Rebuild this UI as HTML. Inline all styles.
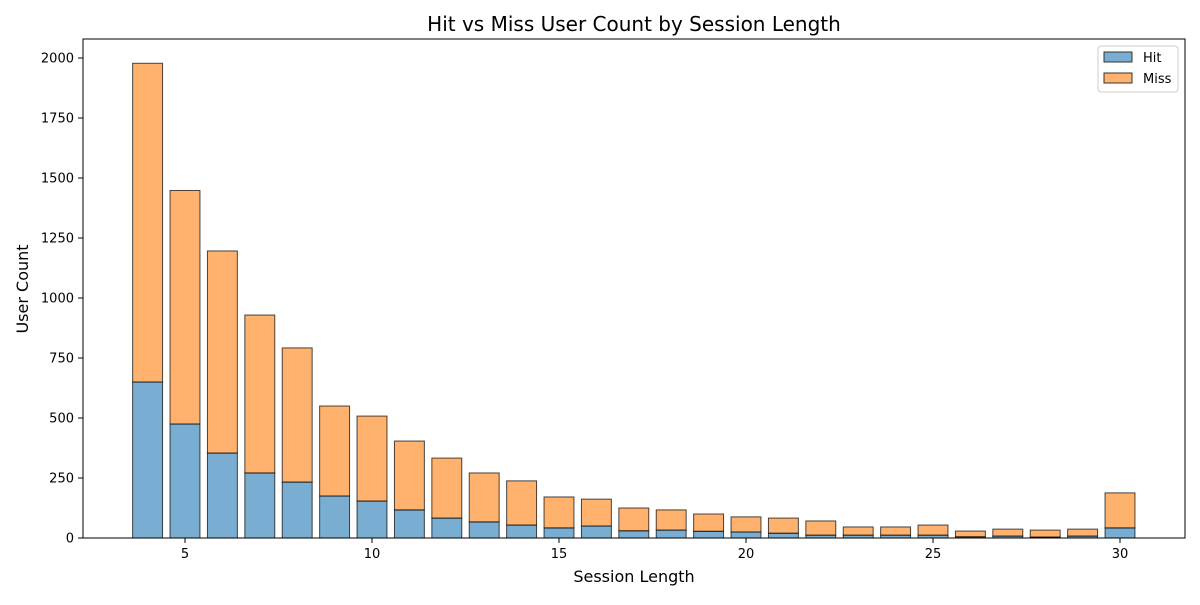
<!DOCTYPE html>
<html><head><meta charset="utf-8"><style>
body{margin:0;background:#fff;font-family:"Liberation Sans","DejaVu Sans",sans-serif;}
</style></head><body>
<svg id="chart" width="1200" height="600" xmlns="http://www.w3.org/2000/svg" font-family="DejaVu Sans, Liberation Sans, sans-serif">
<rect width="1200" height="600" fill="#fff"/>
<text x="634" y="31" font-size="20" text-anchor="middle">Hit vs Miss User Count by Session Length</text>
<g id="bars"></g>
<rect x="83" y="39" width="1102" height="499" fill="none" stroke="#000" stroke-width="1"/>
<g id="xt"></g><g id="yt"></g>
<text x="634" y="582" font-size="16" text-anchor="middle">Session Length</text>
<text transform="translate(28,289) rotate(-90)" font-size="16" text-anchor="middle">User Count</text>
<g>
<rect x="1098" y="46" width="80" height="46" rx="3" fill="#fff" stroke="#ccc"/>
<rect x="1104" y="52" width="28" height="10" fill="#1f77b4" fill-opacity="0.6" stroke="#333"/>
<text x="1143" y="62" font-size="13">Hit</text>
<rect x="1104" y="73" width="28" height="10" fill="#ff7f0e" fill-opacity="0.6" stroke="#333"/>
<text x="1143" y="83" font-size="13">Miss</text>
</g>
</svg>
<script>
const categories=[4,5,6,7,8,9,10,11,12,13,14,15,16,17,18,19,20,21,22,23,24,25,26,27,28,29,30];
const totals=[1978,1448,1196,929,792,550,508,404,333,271,238,171,162,125,117,100,88,83,71,46,46,54,29,37,33,37,188];
const hits=[650,475,354,271,233,175,154,117,83,67,54,42,50,30,33,28,25,20,12,12,12,12,5,8,4,8,42];
const xTicks=[5,10,15,20,25,30];
const yTicks=[0,250,500,750,1000,1250,1500,1750,2000];
const NS="http://www.w3.org/2000/svg";
const xs=v=>185+(v-5)*37.4;
const ys=v=>538-v*0.24;
const bw=0.8*37.4;
const bars=document.getElementById('bars');
function rect(x,y,w,h,fill){const r=document.createElementNS(NS,'rect');r.setAttribute('x',x);r.setAttribute('y',y);r.setAttribute('width',w);r.setAttribute('height',h);r.setAttribute('fill',fill);r.setAttribute('fill-opacity','0.6');r.setAttribute('stroke','#000');r.setAttribute('stroke-opacity','0.7');return r;}
categories.forEach((c,i)=>{
 const h=hits[i],m=totals[i]-hits[i];
 const r1=rect(xs(c)-bw/2,ys(h),bw,ys(0)-ys(h),'#1f77b4');
 
 
 bars.appendChild(r1);
 const r2=rect(xs(c)-bw/2,ys(h+m),bw,ys(h)-ys(h+m),'#ff7f0e');
 
 
 bars.appendChild(r2);
});
const xt=document.getElementById('xt');
xTicks.forEach(v=>{
 const l=document.createElementNS(NS,'line');l.setAttribute('x1',xs(v));l.setAttribute('x2',xs(v));l.setAttribute('y1',538);l.setAttribute('y2',543);l.setAttribute('stroke','#000');
 
 
 xt.appendChild(l);
 const t=document.createElementNS(NS,'text');t.setAttribute('x',xs(v));t.setAttribute('y',558);t.setAttribute('font-size','13');t.setAttribute('text-anchor','middle');t.textContent=v;
 
 
 xt.appendChild(t);
});
const yt=document.getElementById('yt');
yTicks.forEach(v=>{
 const l=document.createElementNS(NS,'line');l.setAttribute('x1',78);l.setAttribute('x2',83);l.setAttribute('y1',ys(v));l.setAttribute('y2',ys(v));l.setAttribute('stroke','#000');
 
 
 yt.appendChild(l);
 const t=document.createElementNS(NS,'text');t.setAttribute('x',74);t.setAttribute('y',ys(v)+4.5);t.setAttribute('font-size','13');t.setAttribute('text-anchor','end');t.textContent=v;
 
 
 yt.appendChild(t);
});
</script>
</body></html>
